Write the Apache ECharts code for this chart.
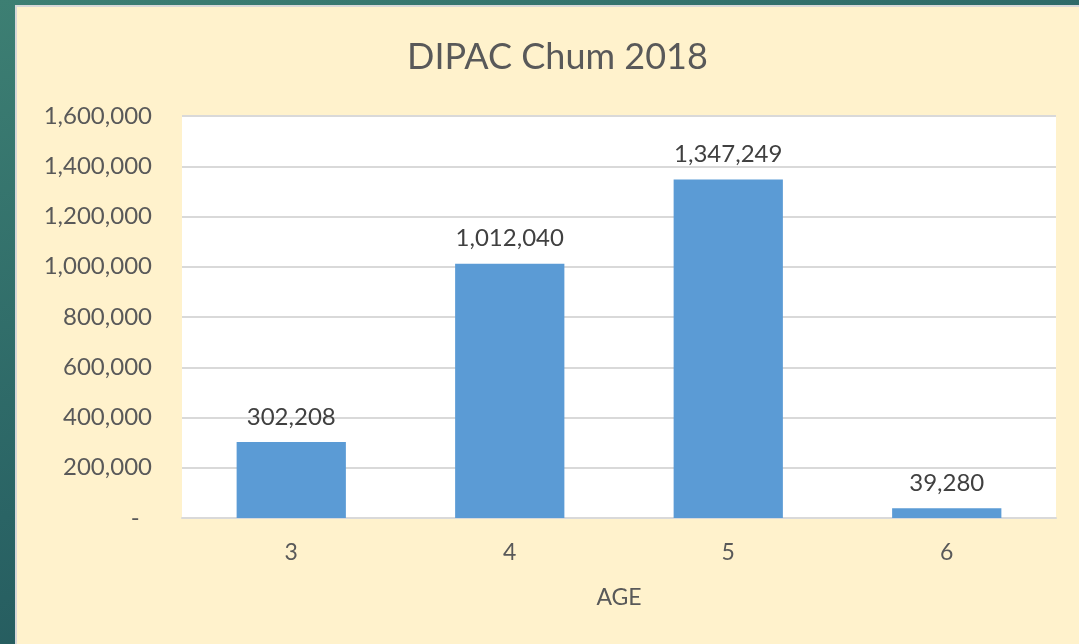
<!DOCTYPE html>
<html>
<head>
<meta charset="utf-8">
<script src="https://cdn.jsdelivr.net/npm/echarts@6/dist/echarts.min.js"></script>
<style>
  html, body { margin: 0; padding: 0; width: 1079px; height: 644px; overflow: hidden; }
  body { background: linear-gradient(160deg, #3d7f73 0%, #2a6465 50%, #1d4b52 100%); position: relative; }
  #panel { position: absolute; left: 15px; top: 5px; right: 0; bottom: 0; background: #FFF2CC;
           border-left: 2px solid #d8d8d8; border-top: 2px solid #d8d8d8; }
  #main { position: absolute; left: 0; top: 0; width: 1079px; height: 644px; }
</style>
</head>
<body>
<div id="panel"></div>
<div id="main"></div>
<script>
// 数据
var titleText = 'DIPAC Chum 2018';
var ages = ['3', '4', '5', '6'];
var counts = [302208, 1012040, 1347249, 39280];
var yTicks = { min: 0, max: 1600000, step: 200000 };

function fmt(v) {
  if (v === 0) return '-  ';
  return v.toString().replace(/\B(?=(\d{3})+(?!\d))/g, ',');
}

var chart = echarts.init(document.getElementById('main'), null, { width: 1079, height: 644 });
var option = {
  backgroundColor: 'transparent',
  textStyle: { fontFamily: 'Lato' },
  title: {
    text: titleText,
    left: 402,
    top: 34,
    textStyle: { fontSize: 36, fontWeight: 'normal', color: '#595959', fontFamily: 'Lato' }
  },
  grid: {
    left: 182, right: 23, top: 116, bottom: 126,
    show: true, backgroundColor: '#ffffff', borderWidth: 0
  },
  xAxis: {
    type: 'category',
    data: ages,
    name: 'AGE',
    nameLocation: 'middle',
    nameGap: 68,
    nameTextStyle: { fontSize: 23, color: '#595959', fontFamily: 'Lato' },
    axisLine: { lineStyle: { color: '#d9d9d9', width: 2 } },
    axisTick: { show: false },
    axisLabel: { fontSize: 23, color: '#595959', margin: 23, fontFamily: 'Lato' }
  },
  yAxis: {
    type: 'value',
    min: yTicks.min,
    max: yTicks.max,
    interval: yTicks.step,
    axisLine: { show: false },
    axisTick: { show: false },
    splitLine: { lineStyle: { color: '#d9d9d9', width: 2 } },
    axisLabel: { fontSize: 24, color: '#595959', margin: 30, formatter: fmt, fontFamily: 'Lato' }
  },
  series: [{
    type: 'bar',
    data: counts,
    barWidth: '50%',
    itemStyle: { color: '#5B9BD5' },
    label: {
      show: true,
      position: 'top',
      distance: 13,
      fontSize: 24,
      color: '#404040',
      fontFamily: 'Lato',
      formatter: function (p) { return fmt(p.value); }
    }
  }]
};
chart.setOption(option);
</script>
</body>
</html>
